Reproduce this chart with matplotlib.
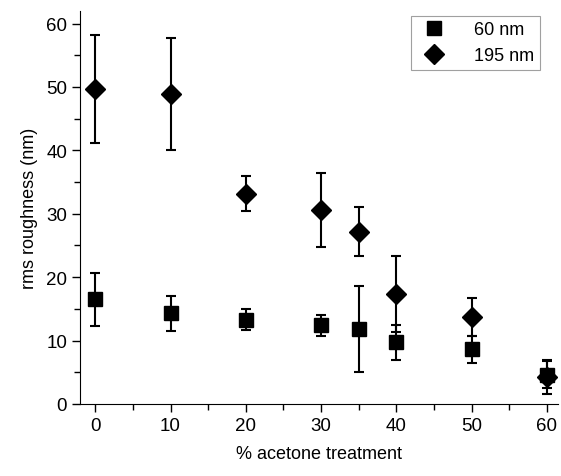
import numpy as np
import matplotlib
matplotlib.use("Agg")
import matplotlib.pyplot as plt
from matplotlib.ticker import MultipleLocator

plt.rcParams['font.family'] = ['Liberation Sans', 'DejaVu Sans']

# 60 nm films
x_60 = [0, 10, 20, 30, 35, 40, 50, 60]
rms_60 = [16.5, 14.3, 13.3, 12.4, 11.8, 9.7, 8.6, 4.6]
err_60 = [4.2, 2.8, 1.7, 1.6, 6.8, 2.8, 2.1, 2.1]

# 195 nm films
x_195 = [0, 10, 20, 30, 35, 40, 50, 60]
rms_195 = [49.7, 48.9, 33.2, 30.6, 27.2, 17.3, 13.7, 4.3]
err_195 = [8.5, 8.8, 2.8, 5.9, 3.8, 6.0, 3.0, 2.7]

fig = plt.figure(figsize=(5.61, 4.77), dpi=100)
ax = fig.add_axes([0.143, 0.151, 0.852, 0.824])

ax.errorbar(x_60, rms_60, yerr=err_60, fmt='s', color='black', ms=10,
            elinewidth=1.5, capsize=3.8, capthick=1.5, label='60 nm')
ax.errorbar(x_195, rms_195, yerr=err_195, fmt='D', color='black', ms=10,
            elinewidth=1.5, capsize=3.8, capthick=1.5, label='195 nm')

ax.set_xlim(-2, 61.5)
ax.set_ylim(0, 62)
ax.xaxis.set_major_locator(MultipleLocator(10))
ax.xaxis.set_minor_locator(MultipleLocator(5))
ax.yaxis.set_major_locator(MultipleLocator(10))
ax.yaxis.set_minor_locator(MultipleLocator(5))
ax.tick_params(which='both', direction='out', labelsize=13.5, width=1)
ax.tick_params(which='major', length=6)
ax.tick_params(which='minor', length=4)

for side in ['top', 'right']:
    ax.spines[side].set_visible(False)

ax.set_xlabel('% acetone treatment', fontsize=13, labelpad=8)
ax.set_ylabel('rms roughness (nm)', fontsize=13, labelpad=6)

# legend without error bars in the handles
handles, labels = ax.get_legend_handles_labels()
handles = [h[0] for h in handles]
leg = ax.legend(handles, labels, loc='upper right', fontsize=13, fancybox=False,
                frameon=True, handletextpad=1.2, borderpad=0.3,
                bbox_to_anchor=(0.98, 1.01))
leg.get_frame().set_edgecolor('#888888')
leg.get_frame().set_linewidth(0.8)

fig.savefig('out.png', dpi=100)
